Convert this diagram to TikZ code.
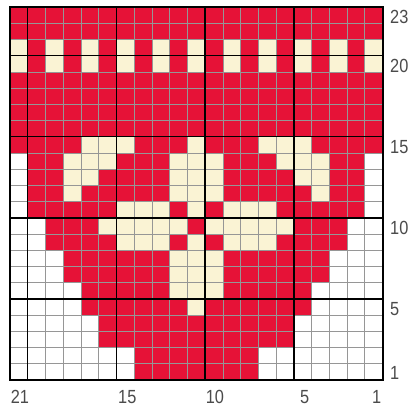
\documentclass[tikz,border=0pt]{standalone}
\usepackage{fontspec}
\setmainfont{Liberation Sans}[FakeStretch=0.86]
\definecolor{chartred}{RGB}{230,18,55}
\definecolor{cream}{RGB}{250,243,212}
\definecolor{gridthin}{RGB}{150,150,150}
\definecolor{labelgray}{RGB}{75,75,75}
\newcommand\cellw{17.738}
\newcommand\cellh{16.217}
\newcommand\cellrow[3]{\foreach \cc in {#2}{\fill[#3] ({10+\cc*\cellw},{7+(23-#1)*\cellh}) rectangle ++(\cellw,\cellh);}}
\begin{document}
\begin{tikzpicture}[x=1pt,y=-1pt,
  lbl/.style={font=\fontsize{19}{19}\selectfont, text=labelgray, inner sep=0pt},
  thinline/.style={draw=gridthin, line width=0.7pt},
  thickline/.style={draw=black, line width=1.5pt}]
\useasboundingbox (0,0) rectangle (413,414);
\fill[white] (0,0) rectangle (413,414);
\fill[chartred] (10,7) rectangle (382.5,380);
% white background outside the heart
\cellrow{14}{0,20}{white}
\cellrow{13}{0,20}{white}
\cellrow{12}{0,20}{white}
\cellrow{11}{0,20}{white}
\cellrow{10}{0,1,19,20}{white}
\cellrow{9}{0,1,19,20}{white}
\cellrow{8}{0,1,2,18,19,20}{white}
\cellrow{7}{0,1,2,18,19,20}{white}
\cellrow{6}{0,1,2,3,17,18,19,20}{white}
\cellrow{5}{0,1,2,3,17,18,19,20}{white}
\cellrow{4}{0,1,2,3,4,16,17,18,19,20}{white}
\cellrow{3}{0,1,2,3,4,16,17,18,19,20}{white}
\cellrow{2}{0,1,2,3,4,5,6,14,15,16,17,18,19,20}{white}
\cellrow{1}{0,1,2,3,4,5,6,14,15,16,17,18,19,20}{white}
% cream motif
\cellrow{21}{0,2,4,6,8,10,12,14,16,18,20}{cream}
\cellrow{20}{0,2,4,6,8,10,12,14,16,18,20}{cream}
\cellrow{15}{4,5,6,10,14,15,16}{cream}
\cellrow{14}{3,4,5,9,10,11,15,16,17}{cream}
\cellrow{13}{3,4,9,10,11,16,17}{cream}
\cellrow{12}{3,9,10,11,17}{cream}
\cellrow{11}{6,7,8,10,12,13,14}{cream}
\cellrow{10}{5,6,7,8,9,11,12,13,14,15}{cream}
\cellrow{9}{6,7,8,10,12,13,14}{cream}
\cellrow{8}{9,10,11}{cream}
\cellrow{7}{9,10,11}{cream}
\cellrow{6}{9,10,11}{cream}
\cellrow{5}{10}{cream}
% grid
\foreach \k in {1,...,20} \draw[thinline] ({10+\k*\cellw},7) -- ({10+\k*\cellw},380);
\foreach \k in {1,...,22} \draw[thinline] (10,{7+\k*\cellh}) -- (382.5,{7+\k*\cellh});
\foreach \k in {1,6,11,16} \draw[thickline] ({10+\k*\cellw},7) -- ({10+\k*\cellw},380);
\foreach \k in {3,8,13,18} \draw[thickline] (10,{7+\k*\cellh}) -- (382.5,{7+\k*\cellh});
\draw[black, line width=2pt] (10,7) rectangle (382.5,380);
% row labels
\node[lbl, anchor=west] (r23) at (390,{7+0.5*\cellh+2}) {23};
\node[lbl, anchor=west] (r20) at (390,{7+3.5*\cellh+2}) {20};
\node[lbl, anchor=west] (r15) at (390,{7+8.5*\cellh+2}) {15};
\node[lbl, anchor=west] (r10) at (390,{7+13.5*\cellh+2}) {10};
\node[lbl, anchor=west] (r5) at (390,{7+18.5*\cellh+2}) {5};
\node[lbl, anchor=west] (r1) at (390,{7+22.5*\cellh+1}) {1};
% column labels
\node[lbl] (b21) at ({10+0.5*\cellw+1},397) {21};
\node[lbl] (b15) at ({10+6.5*\cellw+2},397) {15};
\node[lbl] (b10) at ({10+11.5*\cellw+1},397) {10};
\node[lbl] (b5) at ({10+16.5*\cellw+2},397) {5};
\node[lbl] (b1) at ({10+20.5*\cellw+3},397) {1};
\end{tikzpicture}
\end{document}
